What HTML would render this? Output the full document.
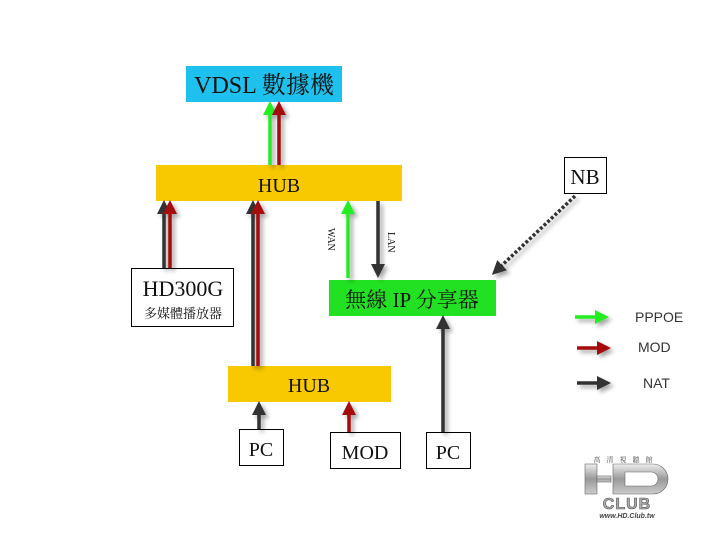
<!DOCTYPE html>
<html><head><meta charset="utf-8"><style>
html,body{margin:0;padding:0;background:#fff;}
svg{display:block}
.s{font-family:"Liberation Serif","Noto Serif CJK SC","Noto Sans CJK TC",serif;}
.a{font-family:"Liberation Sans",sans-serif;}
</style></head><body>
<svg width="720" height="540" viewBox="0 0 720 540" xmlns="http://www.w3.org/2000/svg">
<defs>
<filter id="sh" x="-50%" y="-50%" width="200%" height="200%"><feDropShadow dx="3" dy="3" stdDeviation="2" flood-color="#000" flood-opacity="0.35"/></filter>
<marker id="mg" markerWidth="4" markerHeight="4" refX="2" refY="2" orient="auto" markerUnits="strokeWidth"><path d="M0,0 L4,2 L0,4z" fill="#22ee22"/></marker>
<marker id="mr" markerWidth="4" markerHeight="4" refX="2" refY="2" orient="auto" markerUnits="strokeWidth"><path d="M0,0 L4,2 L0,4z" fill="#a50d0d"/></marker>
<marker id="mk" markerWidth="4" markerHeight="4" refX="2" refY="2" orient="auto" markerUnits="strokeWidth"><path d="M0,0 L4,2 L0,4z" fill="#333"/></marker>
<linearGradient id="lg" x1="0" y1="0" x2="0" y2="1"><stop offset="0" stop-color="#eee"/><stop offset="0.5" stop-color="#999"/><stop offset="1" stop-color="#ccc"/></linearGradient>
</defs>

<rect x="186" y="66" width="156" height="36" fill="#1ec1ee"/>
<text x="264" y="93" class="s" font-size="24" text-anchor="middle" fill="#111">VDSL 數據機</text>

<rect x="156" y="165" width="246" height="36" fill="#f9c900"/>
<text x="279" y="192" class="s" font-size="20" text-anchor="middle" fill="#111">HUB</text>

<rect x="131.5" y="268.5" width="102" height="58" fill="#fff" stroke="#000"/>
<text x="183" y="296" class="s" font-size="22" text-anchor="middle" fill="#111">HD300G</text>
<text x="183" y="318" class="s" font-size="13" text-anchor="middle" fill="#111">多媒體播放器</text>

<rect x="329" y="280" width="167" height="36" fill="#22e022"/>
<text x="412" y="307" class="s" font-size="21" text-anchor="middle" fill="#111">無線 IP 分享器</text>

<rect x="564.5" y="157.5" width="42" height="36" fill="#fff" stroke="#000"/>
<text x="585" y="184" class="s" font-size="21" text-anchor="middle" fill="#111">NB</text>

<rect x="228" y="366" width="163" height="36" fill="#f9c900"/>
<text x="309" y="392" class="s" font-size="20" text-anchor="middle" fill="#111">HUB</text>

<rect x="239.5" y="429.5" width="44" height="36" fill="#fff" stroke="#000"/>
<text x="261" y="456" class="s" font-size="20" text-anchor="middle" fill="#111">PC</text>
<rect x="330.5" y="432.5" width="70" height="36" fill="#fff" stroke="#000"/>
<text x="365" y="459" class="s" font-size="20" text-anchor="middle" fill="#111">MOD</text>
<rect x="426.5" y="432.5" width="44" height="36" fill="#fff" stroke="#000"/>
<text x="448" y="459" class="s" font-size="20" text-anchor="middle" fill="#111">PC</text>

<g filter="url(#sh)" stroke-width="3.5" fill="none">
<line x1="270" y1="165" x2="270" y2="108" stroke="#22ee22" marker-end="url(#mg)"/>
<line x1="279" y1="165" x2="279" y2="108" stroke="#a50d0d" marker-end="url(#mr)"/>
<line x1="164" y1="268" x2="164" y2="207" stroke="#333" marker-end="url(#mk)"/>
<line x1="170" y1="268" x2="170" y2="207" stroke="#a50d0d" marker-end="url(#mr)"/>
<line x1="253" y1="366" x2="253" y2="207" stroke="#333" marker-end="url(#mk)"/>
<line x1="258" y1="366" x2="258" y2="207" stroke="#a50d0d" marker-end="url(#mr)"/>
<line x1="348" y1="278" x2="348" y2="207" stroke="#22ee22" marker-end="url(#mg)"/>
<line x1="378" y1="201" x2="378" y2="271" stroke="#333" marker-end="url(#mk)"/>
<line x1="259" y1="429" x2="259" y2="408" stroke="#333" marker-end="url(#mk)"/>
<line x1="349" y1="432" x2="349" y2="408" stroke="#a50d0d" marker-end="url(#mr)"/>
<line x1="443" y1="432" x2="443" y2="322" stroke="#333" marker-end="url(#mk)"/>
<line x1="575" y1="196" x2="497" y2="270" stroke="#333" stroke-dasharray="3,2" marker-end="url(#mk)"/>
<line x1="575" y1="317" x2="602" y2="317" stroke="#22ee22" marker-end="url(#mg)"/>
<line x1="577" y1="348" x2="604" y2="348" stroke="#a50d0d" marker-end="url(#mr)"/>
<line x1="577" y1="383" x2="604" y2="383" stroke="#333" marker-end="url(#mk)"/>
</g>

<text transform="translate(328,228) rotate(90)" class="s" font-size="10" fill="#111">WAN</text>
<text transform="translate(388,232) rotate(90)" class="s" font-size="10" fill="#111">LAN</text>

<text x="635" y="322" class="a" font-size="14" fill="#333">PPPOE</text>
<text x="638" y="352" class="a" font-size="14" fill="#333">MOD</text>
<text x="643" y="388" class="a" font-size="14" fill="#333">NAT</text>

<g>
<text x="626" y="462" class="s" font-size="7" text-anchor="middle" fill="#555" letter-spacing="6">高清視聽館</text>
<rect x="585" y="464" width="12" height="30" fill="url(#lg)" stroke="#666" stroke-width="0.6"/>
<rect x="597" y="476" width="14" height="6" fill="url(#lg)" stroke="#666" stroke-width="0.6"/>
<path d="M613,464 h40 a15,15 0 0 1 15,15 v0 a15,15 0 0 1 -15,15 h-40z M625,472 v14 h26 a7,7 0 0 0 0,-14z" fill="url(#lg)" fill-rule="evenodd" stroke="#666" stroke-width="0.6"/>
<text x="627" y="509" class="a" font-size="16" font-weight="bold" text-anchor="middle" fill="#aaa" stroke="#555" stroke-width="0.6" letter-spacing="1">CLUB</text>
<text x="627" y="518" class="a" font-size="7" font-style="italic" font-weight="bold" text-anchor="middle" fill="#444">www.HD.Club.tw</text>
</g>
</svg>
</body></html>
